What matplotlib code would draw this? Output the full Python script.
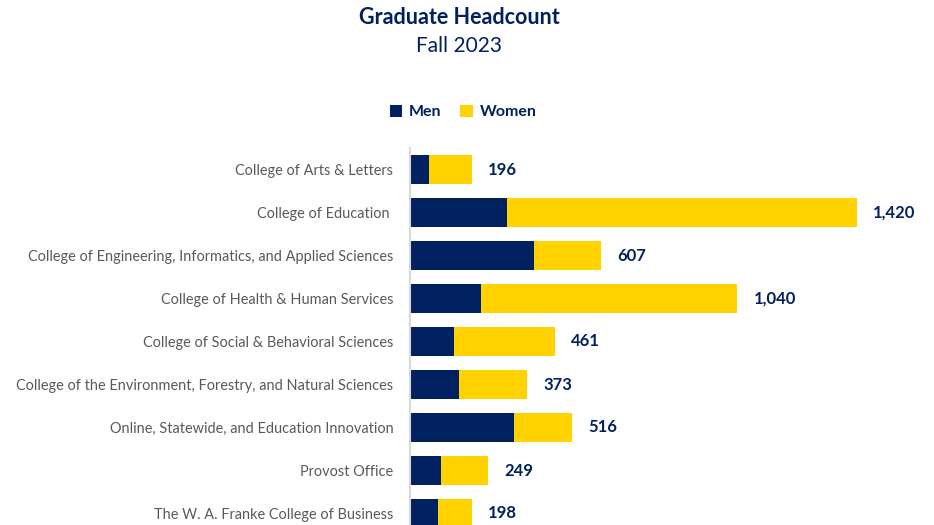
import matplotlib.pyplot as plt
import numpy as np

plt.rcParams['font.family'] = ['Lato', 'DejaVu Sans']

colleges = [
    "College of Arts & Letters",
    "College of Education ",
    "College of Engineering, Informatics, and Applied Sciences",
    "College of Health & Human Services",
    "College of Social & Behavioral Sciences",
    "College of the Environment, Forestry, and Natural Sciences",
    "Online, Statewide, and Education Innovation",
    "Provost Office",
    "The W. A. Franke College of Business",
]
men = [61, 309, 394, 226, 139, 156, 331, 99, 88]
women = [135, 1111, 213, 814, 322, 217, 185, 150, 110]
totals = [196, 1420, 607, 1040, 461, 373, 516, 249, 198]

navy = "#002060"
gold = "#FFD200"

fig = plt.figure(figsize=(9.34, 5.25), dpi=100)
ax = fig.add_axes([410 / 934, -10 / 525, 524 / 934, 387 / 525])

y = np.arange(len(colleges))
ax.barh(y, men, height=0.67, color=navy, label="Men")
ax.barh(y, women, left=men, height=0.67, color=gold, label="Women")

for yi, t in zip(y, totals):
    ax.annotate(f"{t:,}", (t, yi), xytext=(11.5, 0), textcoords="offset points",
                ha="left", va="center", fontsize=12, fontweight="bold", color=navy)

ax.set_xlim(0, 524 / 0.3148)
ax.set_ylim(len(colleges) - 0.5, -0.5)
ax.set_yticks(y)
ax.set_yticklabels(colleges, fontsize=10.45, color="#595959")
ax.tick_params(axis="y", length=0, pad=12)
ax.set_xticks([])
for s in ["top", "right", "bottom"]:
    ax.spines[s].set_visible(False)
ax.spines["left"].set_color("#d9d9d9")
ax.spines["left"].set_linewidth(1.5)

fig.text(459 / 934, 1 - 17 / 525, "Graduate Headcount", ha="center", va="center",
         fontsize=15.5, fontweight="bold", color=navy)
fig.text(459 / 934, 1 - 46 / 525, "Fall 2023", ha="center", va="center",
         fontsize=15, color=navy)

fig.legend(loc="center", bbox_to_anchor=(463 / 934, 1 - 112 / 525), ncol=2,
           frameon=False, handlelength=0.8, handleheight=0.8, handletextpad=0.4,
           columnspacing=1.2, prop={"weight": "bold", "size": 11.5}, labelcolor=navy)

fig.savefig("out.png", dpi=100)
